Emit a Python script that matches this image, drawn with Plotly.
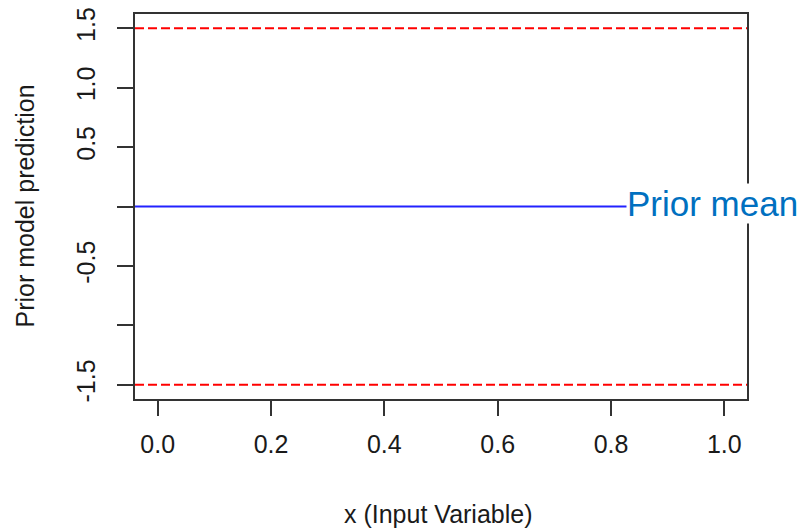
import plotly.graph_objects as go

x_vals = [-0.04, 1.04]
prior_mean = [0.0, 0.0]
upper_band = [1.5, 1.5]
lower_band = [-1.5, -1.5]

x_ticks = [0.0, 0.2, 0.4, 0.6, 0.8, 1.0]
x_tick_text = ["0.0", "0.2", "0.4", "0.6", "0.8", "1.0"]
y_ticks = [-1.5, -1.0, -0.5, 0.0, 0.5, 1.0, 1.5]
y_tick_text = ["-1.5", "", "-0.5", "", "0.5", "1.0", "1.5"]

font_family = "Liberation Sans, Arial, sans-serif"

# page body has an 8px margin; figure is sized/offset to compensate
W, H = 803, 521
L, R, T, B = 127, 64, 6, 130
PW = W - L - R
PH = H - T - B

fig = go.Figure()
fig.add_trace(go.Scatter(x=x_vals, y=upper_band, mode="lines",
                         line=dict(color="#ff0000", width=2, dash="9px,4px"),
                         showlegend=False, hoverinfo="skip"))
fig.add_trace(go.Scatter(x=x_vals, y=lower_band, mode="lines",
                         line=dict(color="#ff0000", width=2, dash="9px,4px"),
                         showlegend=False, hoverinfo="skip"))
fig.add_trace(go.Scatter(x=x_vals, y=prior_mean, mode="lines",
                         line=dict(color="#2222ff", width=2),
                         showlegend=False, hoverinfo="skip"))

fig.update_layout(
    width=W, height=H,
    margin=dict(l=L, r=R, t=T, b=B, autoexpand=False),
    paper_bgcolor="white", plot_bgcolor="white",
    font=dict(family=font_family, size=25, color="#1a1a1a"),
    xaxis=dict(range=[-0.04, 1.04], tickvals=x_ticks, ticktext=x_tick_text,
               showgrid=False, zeroline=False, showline=True, linewidth=2,
               linecolor="#333333", mirror=True, ticks="outside", ticklen=15,
               tickwidth=2, tickcolor="#333333", ticklabelstandoff=7,
               automargin=False, ticklabeloverflow="allow"),
    yaxis=dict(range=[-1.62, 1.62], tickvals=y_ticks, ticktext=y_tick_text,
               tickangle=-90, showgrid=False, zeroline=False, showline=True,
               linewidth=2, linecolor="#333333", mirror=True, ticks="outside",
               ticklen=16, tickwidth=2, tickcolor="#333333",
               ticklabelstandoff=12, automargin=False,
               ticklabeloverflow="allow"),
    annotations=[
        dict(text="x (Input Variable)", xref="paper", yref="paper",
             x=(438 - 135) / PW, y=-(514 - 399) / PH, xanchor="center",
             yanchor="middle", showarrow=False, font=dict(size=25)),
        dict(text="Prior model prediction", xref="paper", yref="paper",
             x=-(135 - 24) / PW, y=0.5, xanchor="center", yanchor="middle",
             textangle=-90, showarrow=False, font=dict(size=25)),
        dict(text="Prior mean", xref="paper", yref="y",
             x=(626 - 135) / PW, y=0.0, xanchor="left", yanchor="middle",
             yshift=3, showarrow=False, bgcolor="white", borderpad=0,
             font=dict(size=35, color="#0070c0")),
    ],
)

fig.write_html("out.html")
